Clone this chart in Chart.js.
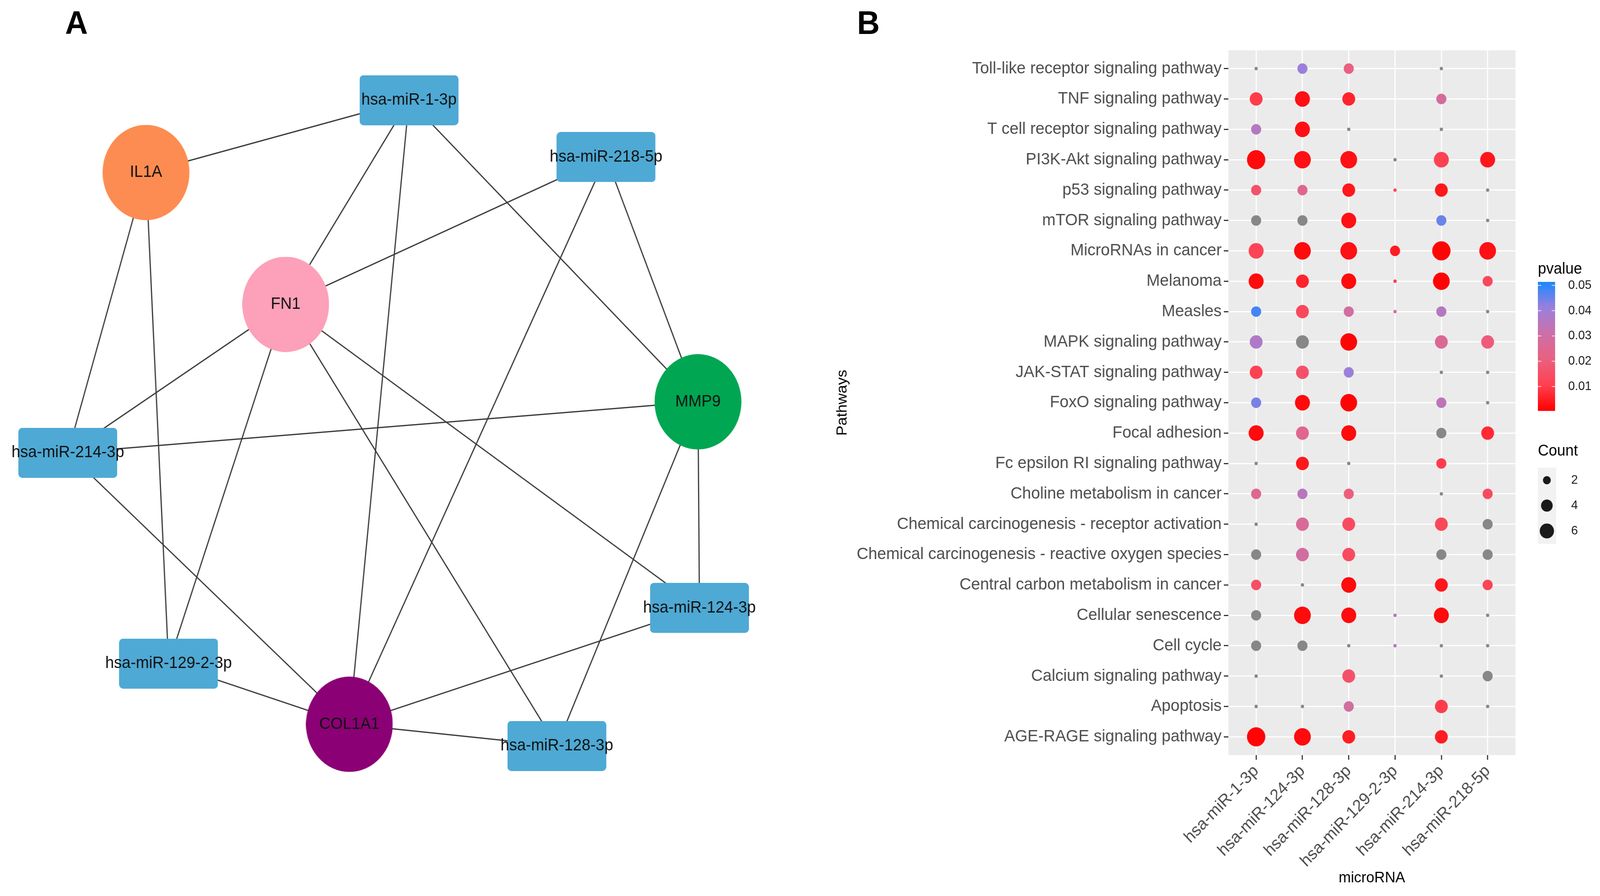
<!DOCTYPE html>
<html>
<head>
<meta charset="utf-8">
<script src="https://cdn.jsdelivr.net/npm/chart.js@4.4.1/dist/chart.umd.min.js"></script>
<style>
  html, body { margin: 0; padding: 0; background: #fff; width: 100%; height: 100%; overflow: hidden; }
  body { font-family: 'Liberation Sans', Arial, sans-serif; }
  #page { position: absolute; left: 0; top: 0; width: 4275px; height: 2295px; transform-origin: 0 0; }
  .tag { position: absolute; font-weight: bold; font-size: 84px; line-height: 1; color: #000; }
  #netChart { position: absolute; left: 0; top: 0; }
  #dotChart { position: absolute; left: 2150px; top: 0; }
</style>
</head>
<body>
<div id="page">
  <div class="tag" style="left:174px; top:16px;">A</div>
  <div class="tag" style="left:2290px; top:16px;">B</div>
  <canvas id="netChart" width="2150" height="2295"></canvas>
  <canvas id="dotChart" width="2125" height="2295"></canvas>
</div>
<script>
// ---- panel A: miRNA - gene network ----
const nodeNames = ['hsa-miR-1-3p', 'IL1A', 'hsa-miR-218-5p', 'FN1', 'MMP9',
  'hsa-miR-214-3p', 'hsa-miR-124-3p', 'hsa-miR-129-2-3p', 'COL1A1', 'hsa-miR-128-3p'];
// layout position of each node (same frame as the panel)
const nodeX = [1093, 383, 1625, 760, 1873, 172, 1877, 444, 932, 1492];
const nodeY = [248, 435, 395, 776, 1028, 1160, 1561, 1705, 1862, 1918];
const edges = [
  ['IL1A', 'hsa-miR-1-3p'], ['IL1A', 'hsa-miR-214-3p'], ['IL1A', 'hsa-miR-129-2-3p'],
  ['FN1', 'hsa-miR-1-3p'], ['FN1', 'hsa-miR-218-5p'], ['FN1', 'hsa-miR-214-3p'],
  ['FN1', 'hsa-miR-129-2-3p'], ['FN1', 'hsa-miR-128-3p'], ['FN1', 'hsa-miR-124-3p'],
  ['MMP9', 'hsa-miR-1-3p'], ['MMP9', 'hsa-miR-218-5p'], ['MMP9', 'hsa-miR-214-3p'],
  ['MMP9', 'hsa-miR-124-3p'], ['MMP9', 'hsa-miR-128-3p'],
  ['COL1A1', 'hsa-miR-1-3p'], ['COL1A1', 'hsa-miR-218-5p'], ['COL1A1', 'hsa-miR-214-3p'],
  ['COL1A1', 'hsa-miR-129-2-3p'], ['COL1A1', 'hsa-miR-124-3p'], ['COL1A1', 'hsa-miR-128-3p']
];

// ---- panel B: KEGG pathway enrichment dot plot ----
const microRNAs = ['hsa-miR-1-3p', 'hsa-miR-124-3p', 'hsa-miR-128-3p',
  'hsa-miR-129-2-3p', 'hsa-miR-214-3p', 'hsa-miR-218-5p'];
const pathways = [
  'Toll-like receptor signaling pathway',
  'TNF signaling pathway',
  'T cell receptor signaling pathway',
  'PI3K-Akt signaling pathway',
  'p53 signaling pathway',
  'mTOR signaling pathway',
  'MicroRNAs in cancer',
  'Melanoma',
  'Measles',
  'MAPK signaling pathway',
  'JAK-STAT signaling pathway',
  'FoxO signaling pathway',
  'Focal adhesion',
  'Fc epsilon RI signaling pathway',
  'Choline metabolism in cancer',
  'Chemical carcinogenesis - receptor activation',
  'Chemical carcinogenesis - reactive oxygen species',
  'Central carbon metabolism in cancer',
  'Cellular senescence',
  'Cell cycle',
  'Calcium signaling pathway',
  'Apoptosis',
  'AGE-RAGE signaling pathway'
];
// gene count per pathway (rows) and microRNA (columns); 0 = no dot
const counts = [
  [1, 2, 2, 0, 1, 0],
  [3, 4, 3, 0, 2, 0],
  [2, 4, 1, 0, 1, 0],
  [6, 5, 5, 1, 4, 4],
  [2, 2, 3, 1, 3, 1],
  [2, 2, 4, 0, 2, 1],
  [4, 5, 5, 2, 6, 5],
  [4, 3, 4, 1, 5, 2],
  [2, 3, 2, 1, 2, 1],
  [3, 3, 5, 0, 3, 3],
  [3, 3, 2, 0, 1, 1],
  [2, 4, 5, 0, 2, 1],
  [4, 3, 4, 0, 2, 3],
  [1, 3, 1, 0, 2, 0],
  [2, 2, 2, 0, 1, 2],
  [1, 3, 3, 0, 3, 2],
  [2, 3, 3, 0, 2, 2],
  [2, 1, 4, 0, 3, 2],
  [2, 5, 4, 1, 4, 1],
  [2, 2, 1, 1, 1, 1],
  [1, 0, 3, 0, 1, 2],
  [1, 1, 2, 0, 3, 1],
  [6, 5, 3, 0, 3, 0]
];
// p-values; null = not significant (drawn grey)
const pvalues = [
  [null, 0.041, 0.021, null, null, null],
  [0.010, 0.003, 0.006, null, 0.028, null],
  [0.036, 0.003, null, null, null, null],
  [0.002, 0.003, 0.003, null, 0.011, 0.004],
  [0.016, 0.025, 0.004, 0.013, 0.004, null],
  [null, null, 0.003, null, 0.045, null],
  [0.012, 0.002, 0.003, 0.005, 0.001, 0.003],
  [0.002, 0.006, 0.002, 0.010, 0.001, 0.013],
  [0.048, 0.013, 0.029, 0.030, 0.036, null],
  [0.037, null, 0.001, null, 0.026, 0.019],
  [0.011, 0.016, 0.041, null, null, null],
  [0.044, 0.002, 0.001, null, 0.034, null],
  [0.002, 0.024, 0.002, null, null, 0.007],
  [null, 0.004, null, null, 0.010, null],
  [0.025, 0.035, 0.020, null, null, 0.014],
  [null, 0.027, 0.014, null, 0.013, null],
  [null, 0.029, 0.014, null, null, null],
  [0.015, null, 0.002, null, 0.004, 0.012],
  [null, 0.002, 0.002, 0.035, 0.002, null],
  [null, null, null, 0.035, null, null],
  [null, null, 0.016, null, null, null],
  [null, null, 0.029, null, 0.010, null],
  [0.001, 0.002, 0.005, null, 0.005, null]
];
const pvalueTicks = [0.01, 0.02, 0.03, 0.04, 0.05];
const pvalueLimits = [0.0004, 0.0514];
const countTicks = [2, 4, 6];
const countLimits = [1, 6];

const FONT = "'Liberation Sans', Arial, sans-serif";
Chart.defaults.font.family = FONT;

// colour ramp red -> blue (stops picked from the reference colourbar)
const rampStops = [
  [0.0, [255, 0, 0]],
  [0.2, [255, 64, 80]],
  [0.4, [234, 96, 128]],
  [0.6, [204, 112, 168]],
  [0.8, [154, 128, 220]],
  [1.0, [26, 136, 255]]
];
function pColor(p) {
  let t = (p - pvalueLimits[0]) / (pvalueLimits[1] - pvalueLimits[0]);
  t = Math.min(1, Math.max(0, t));
  let k = 1;
  while (k < rampStops.length - 1 && rampStops[k][0] < t) k++;
  const [t0, c0] = rampStops[k - 1], [t1, c1] = rampStops[k];
  const f = (t - t0) / (t1 - t0);
  return 'rgb(' + c0.map((v, i) => Math.round(v + (c1[i] - v) * f)).join(',') + ')';
}
function dotRadius(c) {
  const t = (c - countLimits[0]) / (countLimits[1] - countLimits[0]);
  return 4.5 + 20 * Math.sqrt(Math.max(0, t));
}

// ---------- network chart ----------
const geneColors = { IL1A: '#FD8C52', FN1: '#FDA0B9', MMP9: '#00A651', COL1A1: '#8B0075' };
function nodeShape(name) {
  const c = document.createElement('canvas');
  const g = c.getContext('2d');
  if (name.startsWith('hsa-miR')) {
    c.width = 264; c.height = 128;
    g.fillStyle = '#4EA9D4';
    g.beginPath(); g.roundRect(0, 0, 264, 128, 10); g.fill();
  } else {
    c.width = 232; c.height = 244;
    g.fillStyle = geneColors[name];
    g.beginPath(); g.ellipse(116, 122, 116, 122, 0, 0, Math.PI * 2); g.fill();
  }
  return c;
}
const pos = name => { const i = nodeNames.indexOf(name); return { x: nodeX[i], y: nodeY[i] }; };

const nodeLabels = {
  id: 'nodeLabels',
  afterDatasetsDraw(chart) {
    const { ctx, scales: { x, y } } = chart;
    ctx.save();
    ctx.font = '42px ' + FONT;
    ctx.fillStyle = '#111';
    ctx.textAlign = 'center';
    ctx.textBaseline = 'middle';
    nodeNames.forEach((n, i) => ctx.fillText(n, x.getPixelForValue(nodeX[i]), y.getPixelForValue(nodeY[i])));
    ctx.restore();
  }
};

new Chart(document.getElementById('netChart'), {
  type: 'scatter',
  data: {
    datasets: [{
      data: nodeNames.map((n, i) => ({ x: nodeX[i], y: nodeY[i] })),
      pointStyle: nodeNames.map(nodeShape),
      pointRadius: 10,
      pointHoverRadius: 10
    }].concat(edges.map(e => ({
      data: [pos(e[0]), pos(e[1])],
      showLine: true,
      borderColor: '#3C3C3C',
      borderWidth: 3.2,
      pointRadius: 0
    })))
  },
  options: {
    responsive: false,
    animation: false,
    devicePixelRatio: 1,
    layout: { padding: 0 },
    plugins: { legend: { display: false }, tooltip: { enabled: false } },
    scales: {
      x: { type: 'linear', display: false, min: 0, max: 2150 },
      y: { type: 'linear', display: false, min: 0, max: 2295, reverse: true }
    }
  },
  plugins: [nodeLabels]
});

// ---------- dot plot ----------
const dots = [];
counts.forEach((row, i) => row.forEach((c, j) => {
  if (c > 0) dots.push({ x: j, y: i, r: dotRadius(c), count: c, p: pvalues[i][j] });
}));

const panelBg = {
  id: 'panelBg',
  beforeDraw(chart) {
    const { ctx, chartArea: a } = chart;
    ctx.save();
    ctx.fillStyle = '#EBEBEB';
    ctx.fillRect(a.left, a.top, a.right - a.left, a.bottom - a.top);
    ctx.restore();
  }
};

const sideLegend = {
  id: 'sideLegend',
  afterDraw(chart) {
    const ctx = chart.ctx;
    const x0 = 1959, barW = 46, barTop = 722, barBot = 1052;
    ctx.save();
    ctx.fillStyle = '#000';
    ctx.textBaseline = 'middle';
    ctx.textAlign = 'left';
    ctx.font = '40px ' + FONT;
    ctx.fillText('pvalue', x0, 690);
    const h = barBot - barTop;
    for (let k = 0; k < h; k++) {
      const v = pvalueLimits[1] - (k + 0.5) / h * (pvalueLimits[1] - pvalueLimits[0]);
      ctx.fillStyle = pColor(v);
      ctx.fillRect(x0, barTop + k, barW, 1.5);
    }
    ctx.font = '32px ' + FONT;
    pvalueTicks.forEach(v => {
      const yy = barBot - (v - pvalueLimits[0]) / (pvalueLimits[1] - pvalueLimits[0]) * h;
      ctx.strokeStyle = 'rgba(255,255,255,0.8)';
      ctx.lineWidth = 2;
      ctx.beginPath();
      ctx.moveTo(x0, yy); ctx.lineTo(x0 + 9, yy);
      ctx.moveTo(x0 + barW - 9, yy); ctx.lineTo(x0 + barW, yy);
      ctx.stroke();
      ctx.fillStyle = '#1A1A1A';
      ctx.fillText(v.toFixed(2), 2040, yy);
    });
    ctx.fillStyle = '#000';
    ctx.font = '40px ' + FONT;
    ctx.fillText('Count', x0, 1156);
    ctx.fillStyle = '#F2F2F2';
    ctx.fillRect(x0, 1198, 49, 195);
    ctx.font = '32px ' + FONT;
    countTicks.forEach((c, k) => {
      const yy = 1230 + k * 65;
      ctx.fillStyle = '#1A1A1A';
      ctx.beginPath();
      ctx.arc(x0 + 24, yy, dotRadius(c) * 0.78, 0, Math.PI * 2);
      ctx.fill();
      ctx.fillText(String(c), 2048, yy);
    });
    ctx.restore();
  }
};

const gridStyle = { color: '#FFFFFF', lineWidth: 3, tickColor: '#333333', tickWidth: 3, tickLength: 12, drawTicks: true };

new Chart(document.getElementById('dotChart'), {
  type: 'bubble',
  data: {
    datasets: [{
      data: dots,
      backgroundColor: ctx => (ctx.raw && ctx.raw.p != null) ? pColor(ctx.raw.p) : '#878787',
      borderWidth: 0,
      hoverBorderWidth: 0
    }]
  },
  options: {
    responsive: false,
    animation: false,
    devicePixelRatio: 1,
    layout: { padding: { left: 78, top: 129, right: 226, bottom: 22 } },
    plugins: { legend: { display: false }, tooltip: { enabled: false } },
    scales: {
      x: {
        type: 'linear', min: -0.6, max: 5.6,
        afterBuildTicks: s => { s.ticks = microRNAs.map((_, i) => ({ value: i })); },
        afterFit: s => { s.height = 339; s.paddingLeft = 0; s.paddingRight = 0; },
        ticks: {
          callback: v => microRNAs[v], autoSkip: false, minRotation: 45, maxRotation: 45,
          font: { size: 43 }, color: '#4D4D4D', padding: 4
        },
        grid: gridStyle,
        border: { display: false },
        title: { display: true, text: 'microRNA', font: { size: 39 }, color: '#000', padding: 0 }
      },
      y: {
        type: 'linear', min: -0.6, max: 22.6, reverse: true,
        afterBuildTicks: s => { s.ticks = pathways.map((_, i) => ({ value: i })); },
        afterFit: s => { s.width = 1054; s.paddingTop = 0; s.paddingBottom = 0; },
        ticks: {
          callback: v => pathways[v], autoSkip: false,
          font: { size: 43 }, color: '#4D4D4D', padding: 6
        },
        grid: gridStyle,
        border: { display: false },
        title: { display: true, text: 'Pathways', font: { size: 39 }, color: '#000', padding: 0 }
      }
    }
  },
  plugins: [panelBg, sideLegend]
});

// the figure is laid out at 4275x2295; fit it to the actual window
const page = document.getElementById('page');
page.style.transform = 'scale(' + (window.innerWidth / 4275) + ',' + (window.innerHeight / 2295) + ')';
</script>
</body>
</html>
